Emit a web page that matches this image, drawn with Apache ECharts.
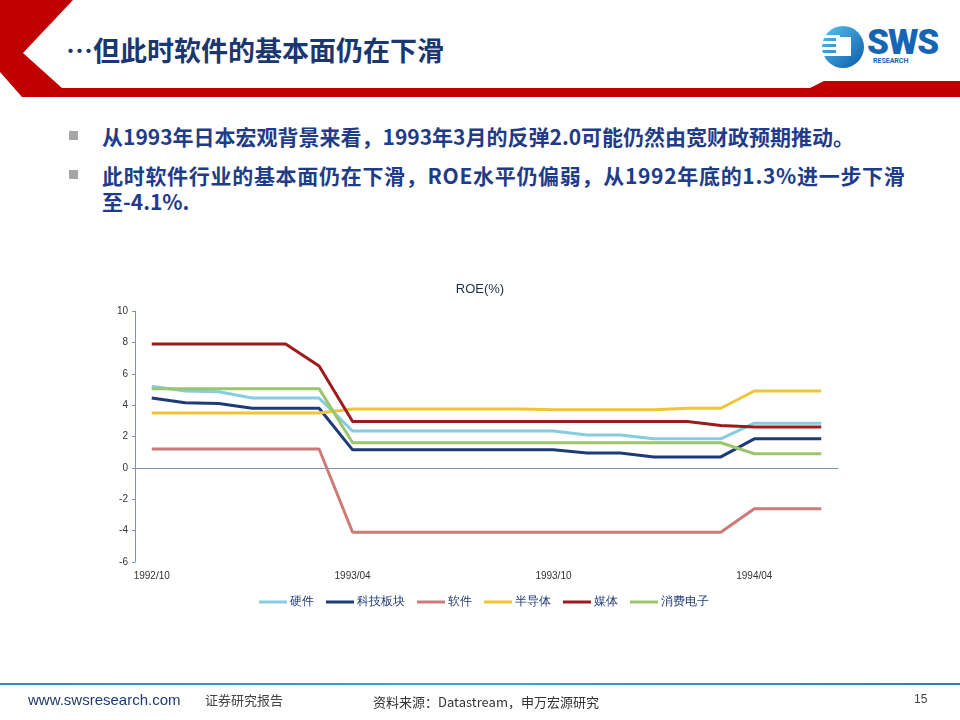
<!DOCTYPE html>
<html>
<head>
<meta charset="utf-8">
<script src="https://cdn.jsdelivr.net/npm/echarts@6/dist/echarts.min.js"></script>
<style>
  body { margin: 0; background: #fff; }
  #page { position: relative; width: 960px; height: 720px; background: #fff; overflow: hidden;
          font-family: "Noto Sans CJK SC", "Noto Sans", sans-serif; }
  #chart { position: absolute; left: 0; top: 0; width: 960px; height: 720px; }
  .abs { position: absolute; white-space: nowrap; }
  .bullet { position: absolute; width: 9px; height: 9px; background: #a6a6a6; }
  .btxt { position: absolute; left: 102px; font-size: 21px; font-weight: bold; color: #1f3c88; }
</style>
</head>
<body>
<div id="page">
  <svg class="abs" style="left:0;top:0" width="960" height="110">
    <polygon points="0,0 73,0 23,53 62,88 960,88 960,97 22,97 0,72" fill="#c00000"/>
    <polygon points="810,88 824,81 960,81 960,88" fill="#c00000"/>
    <defs>
      <linearGradient id="lg" x1="0" y1="0" x2="1" y2="1">
        <stop offset="0" stop-color="#5cc3ef"/>
        <stop offset="1" stop-color="#0a5aa8"/>
      </linearGradient>
    </defs>
    <circle cx="843" cy="47" r="21" fill="url(#lg)"/>
    <rect x="822" y="35" width="18" height="3" fill="#fff"/>
    <rect x="822" y="41" width="18" height="3" fill="#fff"/>
    <rect x="822" y="47" width="18" height="3" fill="#fff"/>
    <rect x="822" y="53" width="18" height="3" fill="#fff"/>
    <rect x="836" y="37" width="15" height="19" fill="#fff"/>
  </svg>
  <div class="abs" style="left:66px;top:30px;font-size:27px;font-weight:bold;color:#1b3770;">…但此时软件的基本面仍在下滑</div>
  <div class="abs" style="left:867px;top:22px;font-family:Roboto,sans-serif;font-size:35px;font-weight:900;color:#1665b5;letter-spacing:-1px;">SWS</div>
  <div class="abs" style="left:873px;top:57px;font-family:Roboto,sans-serif;font-size:7px;font-weight:bold;color:#1665b5;">RESEARCH</div>

  <div class="bullet" style="left:69px;top:131px"></div>
  <div class="btxt" style="top:121px">从1993年日本宏观背景来看，1993年3月的反弹2.0可能仍然由宽财政预期推动。</div>
  <div class="bullet" style="left:69px;top:170px"></div>
  <div class="btxt" style="top:160px;letter-spacing:0.7px">此时软件行业的基本面仍在下滑，ROE水平仍偏弱，从1992年底的1.3%进一步下滑</div>
  <div class="btxt" style="top:186px">至-4.1%.</div>

  <div id="chart"></div>

  <div class="abs" style="left:0;top:683px;width:960px;height:2px;background:linear-gradient(90deg,#2f8fc0,#3aa6c9,#2a7fb5);"></div>
  <div class="abs" style="left:28px;top:691px;font-family:'Liberation Sans',sans-serif;font-size:15px;color:#1f3b73;">www.swsresearch.com</div>
  <div class="abs" style="left:205px;top:690px;font-size:13px;color:#444;">证券研究报告</div>
  <div class="abs" style="left:373px;top:692px;font-size:13px;color:#333;">资料来源：Datastream，申万宏源研究</div>
  <div class="abs" style="left:914px;top:692px;font-family:'Liberation Sans',sans-serif;font-size:12px;color:#444;">15</div>
</div>
<script>
// months, one point per month
var months = ['1992/10', '1992/11', '1992/12', '1993/01', '1993/02', '1993/03', '1993/04',
  '1993/05', '1993/06', '1993/07', '1993/08', '1993/09', '1993/10', '1993/11', '1993/12',
  '1994/01', '1994/02', '1994/03', '1994/04', '1994/05', '1994/06'];

var hardware = [5.2, 4.9, 4.85, 4.45, 4.45, 4.45, 2.35, 2.35, 2.35, 2.35, 2.35, 2.35, 2.35,
  2.1, 2.1, 1.85, 1.85, 1.85, 2.85, 2.85, 2.85];
var tech = [4.45, 4.15, 4.1, 3.8, 3.8, 3.8, 1.15, 1.15, 1.15, 1.15, 1.15, 1.15, 1.15,
  0.95, 0.95, 0.7, 0.7, 0.7, 1.85, 1.85, 1.85];
var software = [1.2, 1.2, 1.2, 1.2, 1.2, 1.2, -4.1, -4.1, -4.1, -4.1, -4.1, -4.1, -4.1,
  -4.1, -4.1, -4.1, -4.1, -4.1, -2.6, -2.6, -2.6];
var semi = [3.5, 3.5, 3.5, 3.5, 3.5, 3.5, 3.75, 3.75, 3.75, 3.75, 3.75, 3.75, 3.7,
  3.7, 3.7, 3.7, 3.8, 3.8, 4.9, 4.9, 4.9];
var media = [7.9, 7.9, 7.9, 7.9, 7.9, 6.5, 2.95, 2.95, 2.95, 2.95, 2.95, 2.95, 2.95,
  2.95, 2.95, 2.95, 2.95, 2.7, 2.6, 2.6, 2.6];
var consumer = [5.05, 5.05, 5.05, 5.05, 5.05, 5.05, 1.6, 1.6, 1.6, 1.6, 1.6, 1.6, 1.6,
  1.6, 1.6, 1.6, 1.6, 1.6, 0.9, 0.9, 0.9];

var names = ['硬件', '科技板块', '软件', '半导体', '媒体', '消费电子'];
var values = [hardware, tech, software, semi, media, consumer];
var colors = ['#86cce2', '#1d3b78', '#cc7b77', '#f0c534', '#9e1b1b', '#9dc56c'];

var myChart = echarts.init(document.getElementById('chart'));
var axisColor = '#7f93ad';

var series = [];
for (var i = 0; i < names.length; i++) {
  series.push({
    name: names[i],
    type: 'line',
    data: values[i],
    symbol: 'none',
    lineStyle: { width: 3, color: colors[i] },
    itemStyle: { color: colors[i] },
  });
}

var option = {
  animation: false,
  title: {
    text: 'ROE(%)',
    left: 'center',
    top: 278,
    textStyle: { fontSize: 13, fontWeight: 'normal', color: '#1f2f44', fontFamily: 'Liberation Sans' },
  },
  legend: {
    data: names,
    left: 254,
    top: 591,
    icon: 'rect',
    itemWidth: 28,
    itemHeight: 3,
    itemGap: 12,
    textStyle: { fontSize: 12, color: '#1f3b73', padding: [0, 0, 0, -2] },
  },
  grid: { left: 135, right: 122, top: 311, bottom: 158 },
  xAxis: [
    {
      type: 'category',
      data: months,
      boundaryGap: true,
      axisLine: { onZero: true, lineStyle: { color: axisColor } },
      axisTick: { interval: 5, length: 4, lineStyle: { color: axisColor } },
      axisLabel: { show: false },
    },
    {
      type: 'category',
      data: months,
      position: 'bottom',
      boundaryGap: true,
      axisLine: { show: false, onZero: false },
      axisTick: { show: false },
      axisLabel: { interval: 5, fontSize: 10, color: '#333', margin: 9, fontFamily: 'Liberation Sans' },
    },
  ],
  yAxis: {
    type: 'value',
    min: -6,
    max: 10,
    interval: 2,
    axisLine: { show: true, lineStyle: { color: axisColor } },
    axisTick: { show: true, length: 3, lineStyle: { color: axisColor } },
    splitLine: { show: false },
    axisLabel: { fontSize: 10, color: '#333', margin: 7, fontFamily: 'Liberation Sans' },
  },
  series: series,
};
myChart.setOption(option);
</script>
</body>
</html>
